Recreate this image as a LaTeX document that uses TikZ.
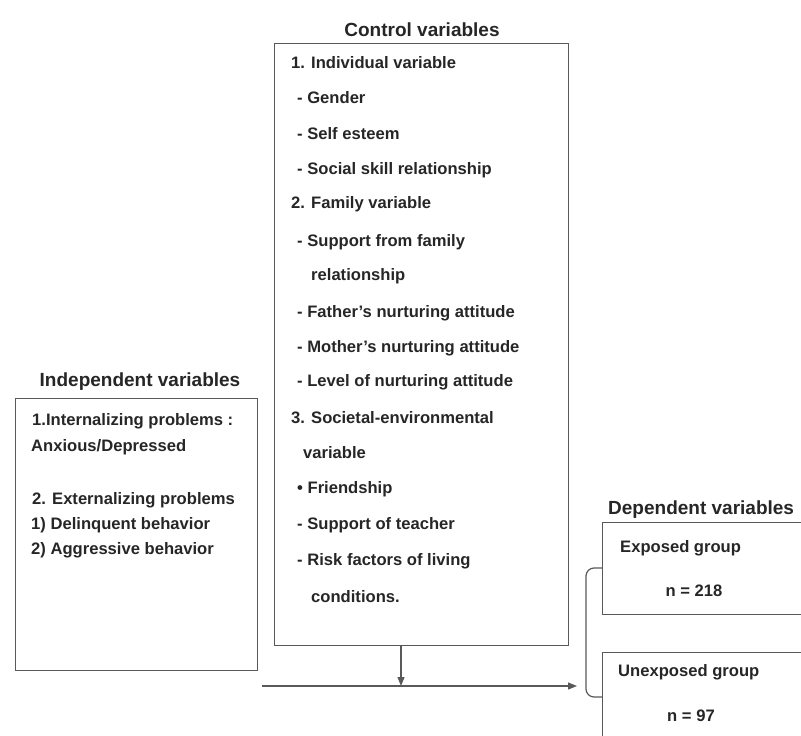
\documentclass[tikz,border=0pt]{standalone}
\usepackage{fontspec}
\setmainfont{Liberation Sans}
\usetikzlibrary{arrows.meta}
\begin{document}
\begin{tikzpicture}[x=1pt,y=-1pt,
  boxline/.style={draw=black!65,line width=1.3pt},
  txt/.style={anchor=west,inner sep=0pt,font=\fontsize{16.6}{19}\selectfont\bfseries,text=black!85},
  ttl/.style={anchor=center,inner sep=0pt,font=\fontsize{19}{22}\selectfont\bfseries,text=black!85},
  conn/.style={draw=black!65,line width=1.2pt},
  arr/.style={conn,-{Triangle[length=9pt,width=7pt]}}]
\useasboundingbox (0,0) rectangle (801,736);
% Control variables
\node[ttl] (ctitle) at (422,30) {Control variables};
\node[boxline,minimum width=294pt,minimum height=602pt,anchor=north west,inner sep=0pt] (cbox) at (274,43) {};
\node[txt] (c1) at (291,63) {1. Individual variable};
\node[txt] (c2) at (297,98) {- Gender};
\node[txt] (c3) at (297,134) {- Self esteem};
\node[txt] (c4) at (297,170) {- Social skill relationship};
\node[txt] (c5) at (291,204) {2. Family variable};
\node[txt] (c6) at (297,242) {- Support from family};
\node[txt] (c7) at (311,276) {relationship};
\node[txt] (c8) at (297,313) {- Father's nurturing attitude};
\node[txt] (c9) at (297,348) {- Mother's nurturing attitude};
\node[txt] (c10) at (297,382) {- Level of nurturing attitude};
\node[txt] (c11) at (291,418) {3. Societal-environmental};
\node[txt] (c12) at (303,453) {variable};
\node[txt] (c13) at (297,489) {• Friendship};
\node[txt] (c14) at (297,525) {- Support of teacher};
\node[txt] (c15) at (297,561) {- Risk factors of living};
\node[txt] (c16) at (311,597) {conditions.};
% Independent variables
\node[ttl] (ititle) at (140,382) {Independent variables};
\node[boxline,minimum width=242pt,minimum height=272pt,anchor=north west,inner sep=0pt] (ibox) at (15,398) {};
\node[txt] (i1) at (32,421) {1.Internalizing problems :};
\node[txt] (i2) at (31,447) {Anxious/Depressed};
\node[txt] (i3) at (32,500) {2. Externalizing problems};
\node[txt] (i4) at (31,525) {1) Delinquent behavior};
\node[txt] (i5) at (31,550) {2) Aggressive behavior};
% Dependent variables
\node[ttl,anchor=west] (dtitle) at (608,510) {Dependent variables};
\node[boxline,minimum width=215pt,minimum height=92pt,anchor=north west,inner sep=0pt] (ebox) at (602,522) {};
\node[txt] (e1) at (620,548) {Exposed group};
\node[txt,anchor=center] (e2) at (694,591) {n = 218};
\node[boxline,minimum width=215pt,minimum height=120pt,anchor=north west,inner sep=0pt] (ubox) at (602,652) {};
\node[txt] (u1) at (618,672) {Unexposed group};
\node[txt,anchor=center] (u2) at (691,716) {n = 97};
% connectors
\coordinate (hstart) at (262,686);
\coordinate (hjoin) at (401,686);
\coordinate (hend) at (577,686);
\draw[arr] (cbox.south -| hjoin) -- (hjoin);
\draw[arr] (hstart) -- (hend);
\draw[conn,rounded corners=8pt] (ebox.west |- 0,568) -- (586,568) -- (586,697) -- (ubox.west |- 0,697);
\end{tikzpicture}
\end{document}
